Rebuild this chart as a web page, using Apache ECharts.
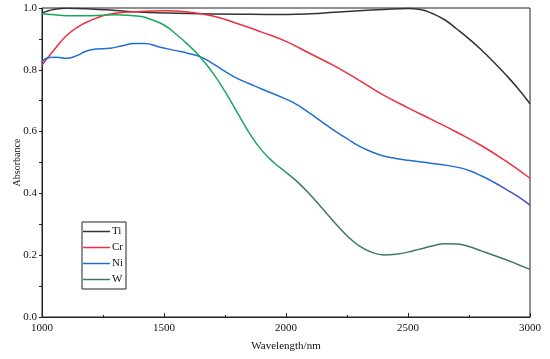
<!DOCTYPE html>
<html>
<head>
<meta charset="utf-8">
<script src="https://cdn.jsdelivr.net/npm/echarts@6/dist/echarts.min.js"></script>
<style>html,body{margin:0;padding:0;background:#fff;}#c{width:550px;height:359px;}</style>
</head>
<body>
<div id="c"></div>
<script>
var tiX = [1000,1030,1060,1100,1200,1300,1400,1500,1600,1800,2000,2100,2200,2300,2400,2500,2550,2600,2650,2700,2750,2800,2850,2900,2950,3000];
var tiY = [0.984,0.992,0.997,0.999,0.997,0.992,0.987,0.984,0.982,0.980,0.979,0.981,0.986,0.991,0.995,0.998,0.995,0.982,0.962,0.932,0.900,0.865,0.826,0.785,0.740,0.690];

var crX = [1000,1050,1100,1150,1200,1250,1300,1400,1500,1600,1700,1800,1900,2000,2100,2200,2300,2400,2500,2600,2700,2800,2900,3000];
var crY = [0.815,0.865,0.910,0.940,0.960,0.975,0.983,0.989,0.991,0.987,0.974,0.950,0.922,0.892,0.852,0.812,0.766,0.718,0.677,0.638,0.598,0.555,0.505,0.449];

var niX = [1000,1030,1060,1100,1140,1180,1220,1280,1330,1380,1420,1480,1550,1600,1650,1700,1750,1800,1850,1900,2000,2050,2100,2150,2200,2250,2300,2350,2400,2450,2500,2600,2700,2750,2800,2850,2900,2950,3000];
var niY = [0.826,0.840,0.841,0.837,0.845,0.860,0.867,0.870,0.878,0.885,0.885,0.874,0.862,0.853,0.842,0.820,0.795,0.772,0.755,0.738,0.705,0.685,0.658,0.630,0.602,0.577,0.553,0.535,0.521,0.513,0.507,0.497,0.485,0.474,0.457,0.437,0.414,0.390,0.362];

var wX = [1000,1050,1100,1200,1300,1400,1450,1500,1550,1600,1650,1700,1750,1800,1850,1900,1950,2000,2050,2100,2150,2200,2250,2300,2350,2400,2450,2500,2550,2600,2650,2700,2750,2800,2850,2900,2950,3000];
var wY = [0.981,0.978,0.975,0.975,0.978,0.973,0.962,0.945,0.915,0.880,0.840,0.790,0.730,0.662,0.595,0.540,0.500,0.468,0.435,0.395,0.350,0.305,0.263,0.230,0.210,0.201,0.203,0.210,0.220,0.230,0.237,0.236,0.228,0.214,0.200,0.186,0.170,0.154];

var names = ['Ti','Cr','Ni','W'];
var xTicks = {min:1000, max:3000, interval:500};
var yTicks = {min:0, max:1, interval:0.2};

function pairs(xs, ys){ return xs.map(function(x,i){ return [x, ys[i]]; }); }

var font = '"Liberation Serif","Times New Roman",serif';
var chart = echarts.init(document.getElementById('c'), null, {renderer:'canvas'});
chart.setOption({
  animation:false,
  backgroundColor:'#fff',
  grid:{left:42, right:20, top:8, bottom:42, containLabel:false, outerBoundsMode:'none', show:true, borderColor:'#222', borderWidth:1, backgroundColor:'transparent'},
  legend:{
    data:names, orient:'vertical', left:82, top:222,
    icon:'rect', itemWidth:27, itemHeight:1.5, itemGap:5,
    borderColor:'#222', borderWidth:1, padding:[4,3,4,1], borderRadius:0,
    textStyle:{fontFamily:font, fontSize:11, color:'#111', padding:[0,0,0,-3]}
  },
  xAxis:{
    type:'value', min:xTicks.min, max:xTicks.max, interval:xTicks.interval,
    name:'Wavelength/nm', nameLocation:'middle', nameGap:24, nameMoveOverlap:false,
    nameTextStyle:{fontFamily:font, fontSize:11, color:'#111'},
    axisLine:{show:true, lineStyle:{color:'#222', width:1}},
    axisTick:{show:true, inside:true, length:4, lineStyle:{color:'#222'}},
    minorTick:{show:true, splitNumber:2, length:2, lineStyle:{color:'#222'}},
    axisLabel:{fontFamily:font, fontSize:11, color:'#111', margin:6, formatter:function(v){return String(v);}},
    splitLine:{show:false}
  },
  yAxis:{
    type:'value', min:yTicks.min, max:yTicks.max, interval:yTicks.interval,
    name:'Absorbance', nameLocation:'middle', nameGap:20, nameMoveOverlap:false,
    nameTextStyle:{fontFamily:font, fontSize:10, color:'#111'},
    axisLine:{show:true, lineStyle:{color:'#222', width:1}},
    axisTick:{show:true, inside:false, length:3, lineStyle:{color:'#222'}},
    minorTick:{show:true, splitNumber:2, length:3, lineStyle:{color:'#222'}},
    axisLabel:{fontFamily:font, fontSize:11, color:'#111', margin:5, formatter:function(v){return v.toFixed(1);}},
    splitLine:{show:false}
  },
  series:[
    {name:'Ti', type:'line', data:pairs(tiX,tiY), smooth:0.5, showSymbol:false, color:'#333333', lineStyle:{width:1.5, color:'#333333'}},
    {name:'Cr', type:'line', data:pairs(crX,crY), smooth:0.5, showSymbol:false, color:'#ef2f3f', lineStyle:{width:1.5, color:'#ef2f3f'}},
    {name:'Ni', type:'line', data:pairs(niX,niY), smooth:0.5, showSymbol:false, color:'#1f6fd0',
      lineStyle:{width:1.5, color:new echarts.graphic.LinearGradient(0,0,1,0,[{offset:0,color:'#1f6fd0'},{offset:0.9,color:'#1f6fd0'},{offset:0.95,color:'#3f50c8'},{offset:1,color:'#4a48c4'}])}},
    {name:'W', type:'line', data:pairs(wX,wY), smooth:0.5, showSymbol:false, color:'#3d7a58',
      lineStyle:{width:1.5, color:new echarts.graphic.LinearGradient(0,0,1,0,[{offset:0,color:'#17a85b'},{offset:0.48,color:'#17a85b'},{offset:0.53,color:'#3f7a58'},{offset:1,color:'#3f7a58'}])}}
  ]
});
</script>
</body>
</html>
